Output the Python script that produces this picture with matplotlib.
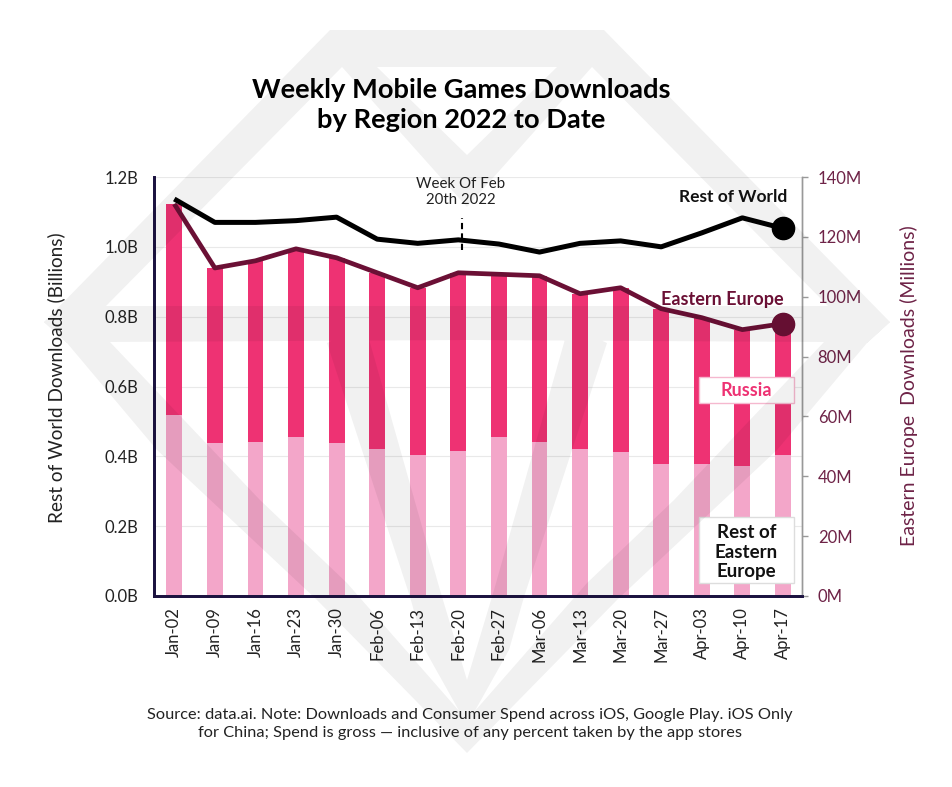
import matplotlib
matplotlib.use('Agg')
import matplotlib.pyplot as plt
from matplotlib.patches import Polygon, PathPatch
from matplotlib.path import Path

plt.rcParams['font.family'] = ['Lato', 'DejaVu Sans']

weeks = ['Jan-02', 'Jan-09', 'Jan-16', 'Jan-23', 'Jan-30', 'Feb-06', 'Feb-13', 'Feb-20',
         'Feb-27', 'Mar-06', 'Mar-13', 'Mar-20', 'Mar-27', 'Apr-03', 'Apr-10', 'Apr-17']
# billions, left axis
rest_of_world = [1.137, 1.07, 1.07, 1.075, 1.085, 1.022, 1.01, 1.02,
                 1.008, 0.985, 1.01, 1.017, 1.0, 1.04, 1.083, 1.053]
# millions, right axis
eastern_europe = [131, 109.6, 112, 116, 113, 108, 103, 108,
                  107.5, 107, 101, 103, 96, 93, 89, 91]
rest_of_ee = [60.5, 51, 51.5, 53, 51, 49, 47, 48.5,
              53, 51.5, 49, 48, 44, 44, 43.5, 47]
russia = [e - r for e, r in zip(eastern_europe, rest_of_ee)]

W, H = 953, 787
BLACK = '#000000'
MAROON = '#6b1035'
TICK_MAROON = '#6e2347'
PINK = '#ee3273'
LIGHT_PINK = '#f3a6c9'
NAVY = '#1c1340'


def fx(px):
    return px / W


def fy(py):
    return 1 - py / H


fig = plt.figure(figsize=(W / 100, H / 100), dpi=100)
ax = fig.add_axes([fx(154), fy(596), (802 - 154) / W, (596 - 177) / H])
ax2 = ax.twinx()
ax.set_zorder(ax2.get_zorder() + 1)
ax.patch.set_visible(False)

x = list(range(len(weeks)))

# bars and eastern europe line on the right axis
ax2.bar(x, rest_of_ee, width=0.39, color=LIGHT_PINK, zorder=2)
ax2.bar(x, russia, width=0.39, bottom=rest_of_ee, color=PINK, zorder=2)
ax2.plot(x, eastern_europe, color=MAROON, lw=3.4, zorder=3, solid_capstyle='butt')
ax2.plot(x[-1], eastern_europe[-1], 'o', color=MAROON, ms=16, zorder=4)

# rest of world line on the left axis
ax.plot(x, rest_of_world, color=BLACK, lw=3.6, zorder=3, solid_capstyle='butt')
ax.plot(x[-1], rest_of_world[-1], 'o', color=BLACK, ms=16, zorder=4)
ax.plot([7.08, 7.08], [0.99, 1.083], color=BLACK, lw=1.5, ls=(0, (3, 2)), zorder=3)

ax.set_xlim(-0.5, 15.47)
ax.set_ylim(0, 1.2)
ax2.set_ylim(0, 140)

ax.set_xticks(x)
ax.set_xticklabels(weeks, rotation=90, fontsize=12, color='#222222')
ax.tick_params(axis='x', length=0, pad=8)
ax.set_yticks([0, 0.2, 0.4, 0.6, 0.8, 1.0, 1.2])
ax.set_yticklabels(['0.0B', '0.2B', '0.4B', '0.6B', '0.8B', '1.0B', '1.2B'],
                   fontsize=12, color='#222222')
ax.tick_params(axis='y', length=0, pad=11.5)
ax2.set_yticks([0, 20, 40, 60, 80, 100, 120, 140])
ax2.set_yticklabels(['0M', '20M', '40M', '60M', '80M', '100M', '120M', '140M'],
                    fontsize=12, color=TICK_MAROON)
ax2.tick_params(axis='y', length=4.3, width=1, color='#999999', pad=7)

for v in [0.2, 0.4, 0.6, 0.8, 1.0, 1.2]:
    ax2.axhline(v / 1.2 * 140, color='#e9e9e9', lw=0.8, zorder=1)

for a in (ax, ax2):
    a.spines['top'].set_visible(False)
    a.spines['left'].set_color(NAVY)
    a.spines['left'].set_linewidth(2)
    a.spines['bottom'].set_color(NAVY)
    a.spines['bottom'].set_linewidth(2)
    a.spines['right'].set_color('#999999')
    a.spines['right'].set_linewidth(1)

fig.text(fx(56), fy(378), 'Rest of World Downloads (Billions)', rotation=90,
         ha='center', va='center', fontsize=13.7, color='#222222')
fig.text(fx(909), fy(386), 'Eastern Europe  Downloads (Millions)', rotation=90,
         ha='center', va='center', fontsize=14, color=TICK_MAROON)

fig.text(fx(461), fy(104.5), 'Weekly Mobile Games Downloads\nby Region 2022 to Date',
         ha='center', va='center', fontsize=19.6, fontweight='bold', color='#000000',
         linespacing=1.3)

fig.text(fx(461), fy(192), 'Week Of Feb\n20th 2022', ha='center', va='center',
         fontsize=10.8, color='#222222', linespacing=1.2)
fig.text(fx(787), fy(197), 'Rest of World', ha='right', va='center',
         fontsize=12.5, fontweight='bold', color='#111111')
fig.text(fx(784), fy(299), 'Eastern Europe', ha='right', va='center',
         fontsize=13, fontweight='bold', color=MAROON)

fig.text(fx(746.5), fy(391), 'Russia', ha='center', va='center', fontsize=13,
         fontweight='bold', color=PINK, zorder=6)
fig.text(fx(746.5), fy(552), 'Rest of\nEastern\nEurope', ha='center', va='center',
         fontsize=13.5, fontweight='bold', color='#111111', linespacing=1.2, zorder=6)

fig.text(fx(470), fy(724), 'Source: data.ai. Note: Downloads and Consumer Spend across iOS, '
         'Google Play. iOS Only\nfor China; Spend is gross \u2014 inclusive of any percent '
         'taken by the app stores',
         ha='center', va='center', fontsize=11.8, color='#222222', linespacing=1.35)

# overlay in pixel coords for the label boxes and the watermark
over = fig.add_axes([0, 0, 1, 1], zorder=5)
over.set_xlim(0, W)
over.set_ylim(H, 0)
over.axis('off')
over.patch.set_visible(False)

over.add_patch(Polygon([(699, 377), (794, 377), (794, 403), (699, 403)], closed=True,
                       facecolor='white', edgecolor='#f5b8cf', lw=1))
over.add_patch(Polygon([(699, 517), (794, 517), (794, 583), (699, 583)], closed=True,
                       facecolor='white', edgecolor='#dddddd', lw=1))

# left half of the watermark, the right half is mirrored around x=467
left_half = [
    [(330, 30), (467, 30), (467, 67), (342, 67)],
    [(330, 30), (342, 67), (106, 306), (110, 342), (67, 343), (44, 322)],
    [(44, 322), (467, 322), (467, 340), (110, 342), (67, 343)],
    [(110, 342), (260, 500), (347, 583), (467, 720), (467, 753), (317, 600), (157, 450), (67, 343)],
    [(106, 306), (467, 306), (467, 322), (44, 322)],
    [(377, 67), (467, 155), (467, 207), (342, 67)],
    [(327, 343), (365, 325), (440, 590), (467, 680), (467, 725), (425, 650), (410, 597)],
]


def with_orientation(pts):
    # same winding everywhere so overlaps do not get darker
    area = sum(pts[i][0] * pts[(i + 1) % len(pts)][1] - pts[(i + 1) % len(pts)][0] * pts[i][1]
               for i in range(len(pts)))
    return pts if area > 0 else pts[::-1]


verts, codes = [], []
for pts in left_half:
    for shape in (pts, [(934 - px, py) for px, py in pts]):
        shape = with_orientation(shape)
        verts += shape + [shape[0]]
        codes += [Path.MOVETO] + [Path.LINETO] * (len(shape) - 1) + [Path.CLOSEPOLY]
over.add_patch(PathPatch(Path(verts, codes), facecolor='#000000', edgecolor='none', alpha=0.055))

fig.savefig('out.png', dpi=100)
